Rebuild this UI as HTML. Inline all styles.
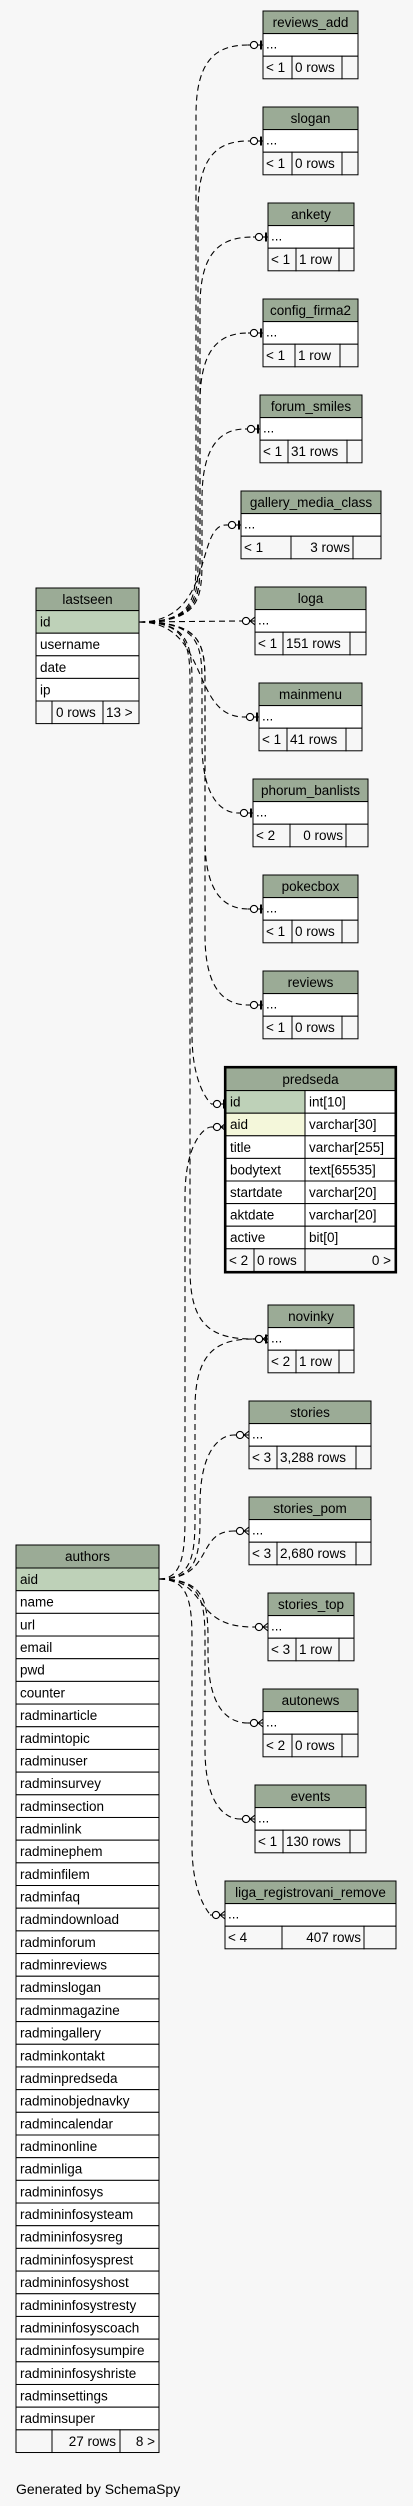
<!DOCTYPE html>
<html><head><meta charset="utf-8">
<style>
html,body{margin:0;padding:0;background:#f7f7f7;}
svg{display:block;}
text{font-family:"Liberation Sans",Arial,sans-serif;font-size:13.5px;fill:#000;}
</style></head>
<body>
<svg id="s" width="413" height="2506" viewBox="0 0 413 2506" xmlns="http://www.w3.org/2000/svg">
<rect width="413" height="2506" fill="#f7f7f7"/>
<g id="edges" fill="none" stroke="#000" stroke-width="1.1" stroke-dasharray="6,4"></g>
<g id="marks" stroke="#000" stroke-width="1.1"></g>
<g id="tables"></g>
<text x="16" y="2494" style="font-size:14px">Generated by SchemaSpy</text>
</svg>
<script>
var NS="http://www.w3.org/2000/svg";
function el(p,t,a,txt){var e=document.createElementNS(NS,t);for(var k in a)e.setAttribute(k,a[k]);if(txt!=null)e.textContent=txt;p.appendChild(e);return e;}
var T=document.getElementById("tables"),E=document.getElementById("edges"),M=document.getElementById("marks");
function rect(x,y,w,h,f,sw){el(T,"rect",{x:x,y:y,width:w,height:h,fill:f,stroke:"#000","stroke-width":sw||1});}
function txt(x,y,s,anchor){el(T,"text",{x:x,y:y,"text-anchor":anchor||"start"},s);}
// small table: name,x,w,top,[c1w,c2w], left, mid, midRightAlign
function small(name,x,w,top,c1,c2,l,m,ra){
  var H=22.6;
  rect(x,top,w,H,"#9bab96");txt(x+w/2,top+16,name,"middle");
  rect(x,top+H,w,H,"#fff");txt(x+3,top+H+15,"...");
  var fy=top+2*H;
  rect(x,fy,c1,H,"#f7f7f7");rect(x+c1,fy,c2,H,"#f7f7f7");rect(x+c1+c2,fy,w-c1-c2,H,"#f7f7f7");
  txt(x+3,fy+16,l);
  if(ra)txt(x+c1+c2-3,fy+16,m,"end");else txt(x+c1+3,fy+16,m);
}
small("reviews_add",263,95,11,29,50,"< 1","0 rows");
small("slogan",263,95,107,29,50,"< 1","0 rows");
small("ankety",268,86,203,28,43,"< 1","1 row");
small("config_firma2",263,95,299,32,45,"< 1","1 row");
small("forum_smiles",260,102,395,28,59,"< 1","31 rows");
small("gallery_media_class",241,140,491,50,62,"< 1","3 rows",true);
small("loga",255,111,587,28,67,"< 1","151 rows");
small("mainmenu",259,103,683,28,59,"< 1","41 rows");
small("phorum_banlists",253,115,779,37,56,"< 2","0 rows",true);
small("pokecbox",263,95,875,29,50,"< 1","0 rows");
small("reviews",263,95,971,29,50,"< 1","0 rows");
small("novinky",268,86,1305,28,43,"< 2","1 row");
small("stories",249,122,1401,28,79,"< 3","3,288 rows");
small("stories_pom",249,122,1497,28,79,"< 3","2,680 rows");
small("stories_top",268,86,1593,28,43,"< 3","1 row");
small("autonews",263,95,1689,29,50,"< 2","0 rows");
small("events",255,111,1785,28,67,"< 1","130 rows");
small("liga_registrovani_remove",225,171,1881,57,82,"< 4","407 rows",true);
// lastseen
(function(){var x=36,w=103,H=22.6,y=588;
rect(x,y,w,H,"#9bab96");txt(x+w/2,y+16,"lastseen","middle");y+=H;
var r=["id","username","date","ip"];
r.forEach(function(n,i){rect(x,y,w,H,i==0?"#bed1b8":"#fff");txt(x+4,y+16,n);y+=H;});
rect(x,y,16,H,"#f7f7f7");rect(x+16,y,51,H,"#f7f7f7");rect(x+67,y,36,H,"#f7f7f7");
txt(x+20,y+16,"0 rows");txt(x+70,y+16,"13 >");})();
// predseda
(function(){var x=226,w=169,H=22.6,y=1068,c=79;
rect(x,y,w,H,"#9bab96");txt(x+w/2,y+16,"predseda","middle");y+=H;
var r=[["id","int[10]"],["aid","varchar[30]"],["title","varchar[255]"],["bodytext","text[65535]"],["startdate","varchar[20]"],["aktdate","varchar[20]"],["active","bit[0]"]];
r.forEach(function(n,i){rect(x,y,c,H,i==0?"#bed1b8":(i==1?"#f4f7da":"#fff"));rect(x+c,y,w-c,H,"#fff");txt(x+4,y+16,n[0]);txt(x+c+4,y+16,n[1]);y+=H;});
rect(x,y,28,H,"#f7f7f7");rect(x+28,y,51,H,"#f7f7f7");rect(x+c,y,w-c,H,"#f7f7f7");
txt(x+3,y+16,"< 2");txt(x+31,y+16,"0 rows");txt(x+w-4,y+16,"0 >","end");
el(T,"rect",{x:225,y:1067,width:171,height:y+H-1067+1,fill:"none",stroke:"#000","stroke-width":2.2});})();
// authors
(function(){var x=16,w=143,H=22.68,y=1545;
rect(x,y,w,23,"#9bab96");txt(x+w/2,y+16,"authors","middle");y+=23;
var r=["aid","name","url","email","pwd","counter","radminarticle","radmintopic","radminuser","radminsurvey","radminsection","radminlink","radminephem","radminfilem","radminfaq","radmindownload","radminforum","radminreviews","radminslogan","radminmagazine","radmingallery","radminkontakt","radminpredseda","radminobjednavky","radmincalendar","radminonline","radminliga","radmininfosys","radmininfosysteam","radmininfosysreg","radmininfosysprest","radmininfosyshost","radmininfosystresty","radmininfosyscoach","radmininfosysumpire","radmininfosyshriste","radminsettings","radminsuper"];
r.forEach(function(n,i){rect(x,y,w,H,i==0?"#bed1b8":"#fff");txt(x+4,y+16,n);y+=H;});
rect(x,y,36,H,"#f7f7f7");rect(x+36,y,68,H,"#f7f7f7");rect(x+104,y,39,H,"#f7f7f7");
txt(x+100,y+16,"27 rows","end");txt(x+139,y+16,"8 >","end");})();
// edges
function edge(sx,sy,tx,ty,vx,many){
  var ex=tx-15;
  var d;
  if(Math.abs(ty-sy)<8){d="M"+sx+","+sy+" L"+ex+","+ty;}
  else{var dir=ty<sy?-1:1;
    d="M"+sx+","+sy+" C"+(vx-5)+","+sy+" "+vx+","+(sy+dir*20)+" "+vx+","+(sy+dir*60)+
      " L"+vx+","+(ty-dir*70)+" C"+vx+","+(ty-dir*15)+" "+(vx+20)+","+ty+" "+ex+","+ty;
    if(Math.abs(ty-sy)<140){d="M"+sx+","+sy+" C"+(vx+10)+","+sy+" "+(vx-10)+","+ty+" "+ex+","+ty;}
  }
  el(E,"path",{d:d});
  el(M,"line",{x1:ex,y1:ty,x2:tx,y2:ty});
  el(M,"circle",{cx:tx-9,cy:ty,r:3.6,fill:"#fff"});
  if(many){el(M,"line",{x1:tx-5,y1:ty,x2:tx,y2:ty-4});el(M,"line",{x1:tx-5,y1:ty,x2:tx,y2:ty+4});}
  else{el(M,"rect",{x:tx-3,y:ty-4.5,width:2,height:9,fill:"#000",stroke:"none"});}
}
var ls=[139,622];
[[263,45,196],[263,141,198],[268,237,200],[263,333,200],[260,429,202],[241,525,205],[259,717,200],[253,813,202],[263,909,205],[263,1005,205],[226,1104,192],[268,1339,190]].forEach(function(a){edge(ls[0],ls[1],a[0],a[1],a[2],false);});
edge(139,622,255,621,0,true);
var au=[159,1579];
[[226,1127,185,true],[268,1339,195,true],[249,1435,200,true],[249,1531,205,true],[268,1627,200,true],[263,1723,208,true],[255,1819,205,true],[225,1915,192,true]].forEach(function(a){edge(au[0],au[1],a[0],a[1],a[2],a[3]);});
</script>
</body></html>
